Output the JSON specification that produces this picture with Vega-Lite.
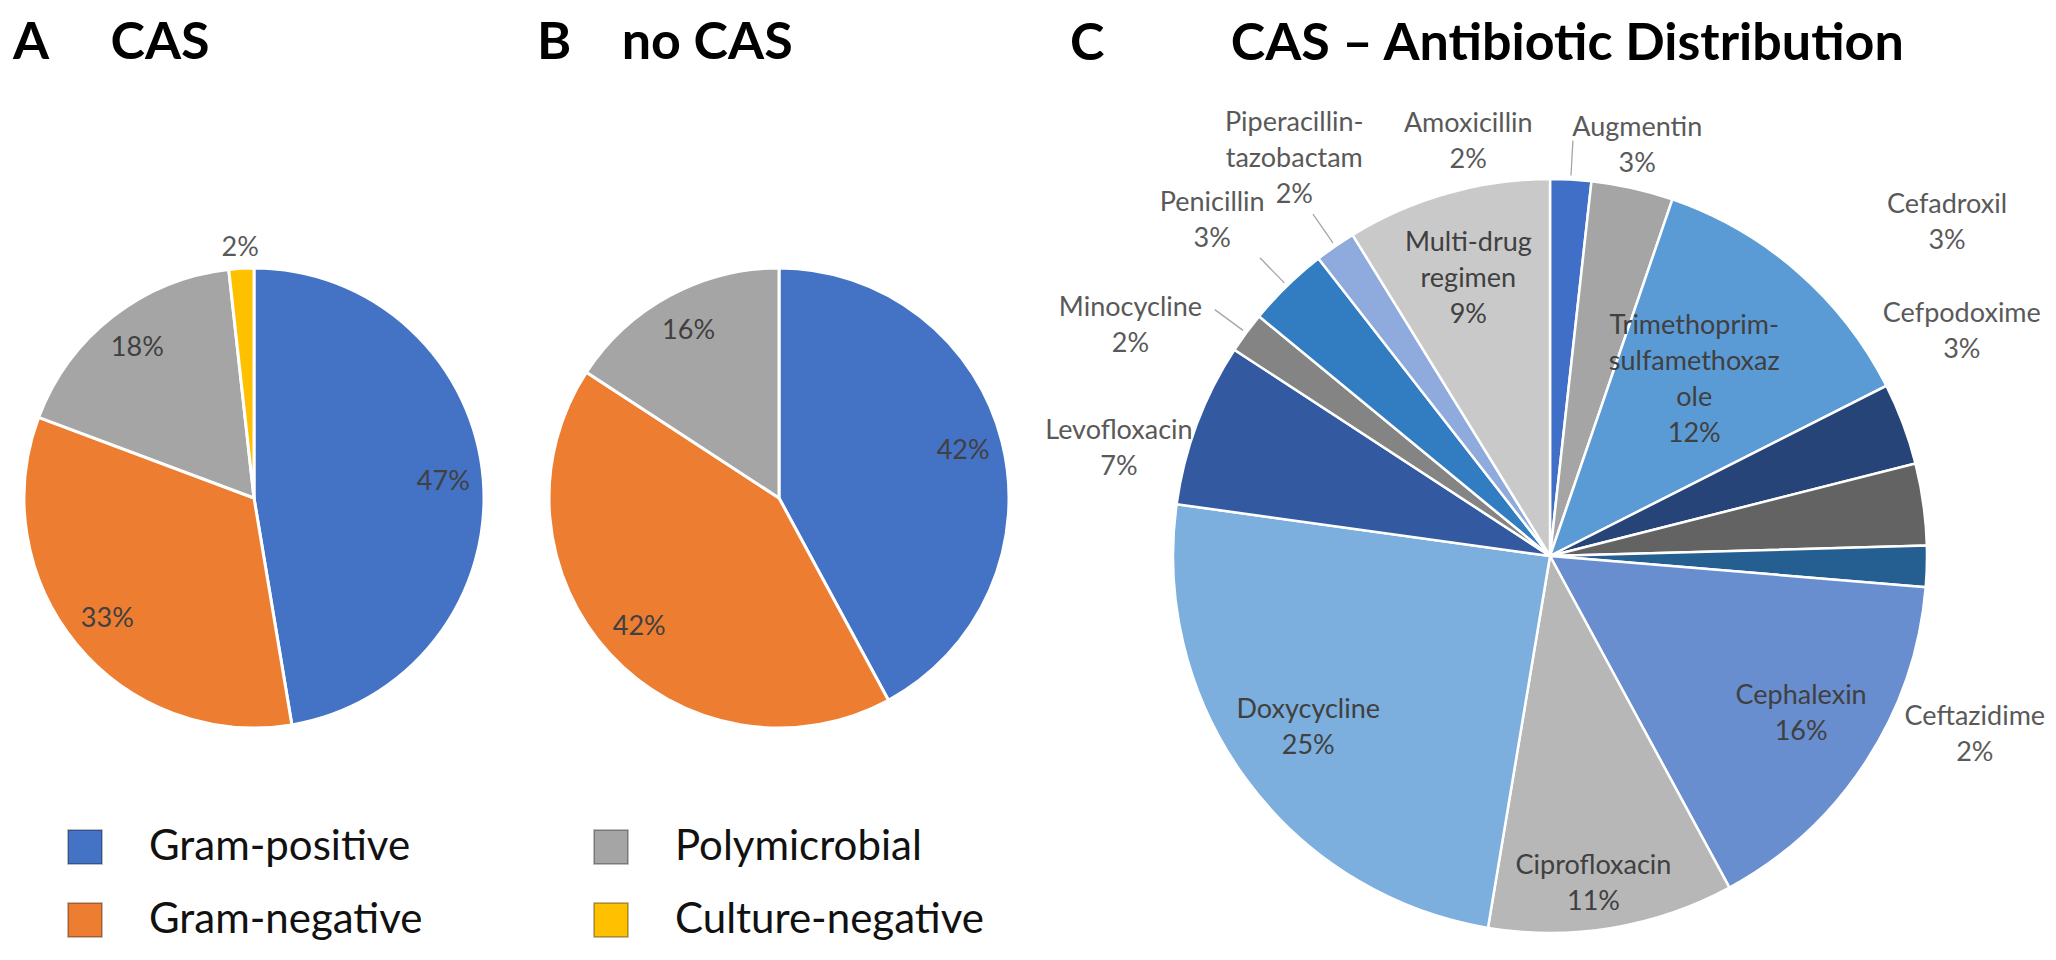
{
  "$schema": "https://vega.github.io/schema/vega-lite/v6.json",
  "padding": {"top": 17, "left": 0, "right": 0, "bottom": 0},
  "background": "white",
  "config": {
    "view": {"stroke": null},
    "title": {"font": "Lato", "fontSize": 52, "fontWeight": "bold", "color": "#000000", "anchor": "start", "frame": "group", "baseline": "alphabetic"}
  },
  "datasets": {
    "cas": [
      {"group": "Gram-positive", "n": 27, "pct": "47%", "seq": 1},
      {"group": "Gram-negative", "n": 19, "pct": "33%", "seq": 2},
      {"group": "Polymicrobial", "n": 10, "pct": "18%", "seq": 3},
      {"group": "Culture-negative", "n": 1, "pct": "2%", "seq": 4}
    ],
    "nocas": [
      {"group": "Gram-positive", "n": 8, "pct": "42%", "seq": 1},
      {"group": "Gram-negative", "n": 8, "pct": "42%", "seq": 2},
      {"group": "Polymicrobial", "n": 3, "pct": "16%", "seq": 3}
    ],
    "abx": [
      {"drug": "Amoxicillin", "n": 1, "seq": 1, "label": "Amoxicillin\n2%"},
      {"drug": "Augmentin", "n": 2, "seq": 2, "label": "Augmentin\n3%"},
      {"drug": "Trimethoprim-sulfamethoxazole", "n": 7, "seq": 3, "label": "Trimethoprim-\nsulfamethoxaz\nole\n12%"},
      {"drug": "Cefadroxil", "n": 2, "seq": 4, "label": "Cefadroxil\n3%"},
      {"drug": "Cefpodoxime", "n": 2, "seq": 5, "label": "Cefpodoxime\n3%"},
      {"drug": "Ceftazidime", "n": 1, "seq": 6, "label": "Ceftazidime\n2%"},
      {"drug": "Cephalexin", "n": 9, "seq": 7, "label": "Cephalexin\n16%"},
      {"drug": "Ciprofloxacin", "n": 6, "seq": 8, "label": "Ciprofloxacin\n11%"},
      {"drug": "Doxycycline", "n": 14, "seq": 9, "label": "Doxycycline\n25%"},
      {"drug": "Levofloxacin", "n": 4, "seq": 10, "label": "Levofloxacin\n7%"},
      {"drug": "Minocycline", "n": 1, "seq": 11, "label": "Minocycline\n2%"},
      {"drug": "Penicillin", "n": 2, "seq": 12, "label": "Penicillin\n3%"},
      {"drug": "Piperacillin-tazobactam", "n": 1, "seq": 13, "label": "Piperacillin-\ntazobactam\n2%"},
      {"drug": "Multi-drug regimen", "n": 5, "seq": 14, "label": "Multi-drug\nregimen\n9%"}
    ]
  },
  "bounds": "flush",
  "spacing": 0,
  "resolve": {"scale": {"color": "independent", "theta": "independent"}},
  "hconcat": [
    {
      "width": 508,
      "height": 692,
      "title": {"text": "A\u00a0\u00a0\u00a0\u00a0\u00a0CAS", "dx": 13, "offset": 82},
      "data": {"name": "cas"},
      "encoding": {
        "theta": {"field": "n", "type": "quantitative", "stack": true},
        "order": {"field": "seq", "type": "quantitative"}
      },
      "layer": [
        {
          "mark": {"type": "arc", "outerRadius": 230, "stroke": "white", "strokeWidth": 3},
          "encoding": {
            "color": {
              "field": "group", "type": "nominal",
              "scale": {"domain": ["Gram-positive", "Gram-negative", "Polymicrobial", "Culture-negative"], "range": ["#4472C4", "#ED7D31", "#A5A5A5", "#FFC000"]},
              "legend": {
                "title": null, "orient": "none", "legendX": 64, "legendY": 674, "columns": 2, "columnPadding": 167, "rowPadding": 31,
                "symbolType": "square", "symbolSize": 1156, "symbolStrokeColor": "rgba(0,0,0,0.35)", "symbolStrokeWidth": 1.5, "symbolOpacity": 1,
                "labelFont": "Lato", "labelFontSize": 42, "labelColor": "#111111", "labelOffset": 43, "labelLimit": 500, "padding": 0
              }
            }
          }
        },
        {
          "mark": {"type": "text", "radius": 190, "font": "Lato", "fontSize": 27, "align": "center", "baseline": "middle"},
          "encoding": {"text": {"condition": {"test": "datum.n > 1", "field": "pct"}, "value": ""}, "color": {"value": "#404040"}}
        },
        {
          "mark": {"type": "text", "radius": 250, "font": "Lato", "fontSize": 27, "align": "center", "baseline": "middle"},
          "encoding": {"text": {"condition": {"test": "datum.n <= 1", "field": "pct"}, "value": ""}, "color": {"value": "#595959"}}
        }
      ]
    },
    {
      "width": 542,
      "height": 692,
      "title": {"text": "B\u00a0\u00a0\u00a0\u00a0no CAS", "dx": 29, "offset": 82},
      "data": {"name": "nocas"},
      "encoding": {
        "theta": {"field": "n", "type": "quantitative", "stack": true},
        "order": {"field": "seq", "type": "quantitative"}
      },
      "layer": [
        {
          "mark": {"type": "arc", "outerRadius": 230, "stroke": "white", "strokeWidth": 3},
          "encoding": {
            "color": {
              "field": "group", "type": "nominal",
              "scale": {"domain": ["Gram-positive", "Gram-negative", "Polymicrobial", "Culture-negative"], "range": ["#4472C4", "#ED7D31", "#A5A5A5", "#FFC000"]},
              "legend": null
            }
          }
        },
        {
          "mark": {"type": "text", "radius": 190, "font": "Lato", "fontSize": 27, "align": "center", "baseline": "middle"},
          "encoding": {"text": {"field": "pct"}, "color": {"value": "#404040"}}
        }
      ]
    },
    {
      "width": 1000,
      "height": 808,
      "title": {"text": "C\u00a0\u00a0\u00a0\u00a0\u00a0\u00a0\u00a0\u00a0\u00a0\u00a0CAS \u2013 Antibiotic Distribution", "dx": 20, "offset": 38},
      "data": {"name": "abx"},
      "layer": [
        {
          "mark": {"type": "arc", "outerRadius": 377, "stroke": "white", "strokeWidth": 2.5},
          "encoding": {
            "theta": {"field": "n", "type": "quantitative", "stack": true},
            "order": {"field": "seq", "type": "quantitative"},
            "color": {
              "field": "drug", "type": "nominal",
              "scale": {
                "domain": ["Amoxicillin", "Augmentin", "Trimethoprim-sulfamethoxazole", "Cefadroxil", "Cefpodoxime", "Ceftazidime", "Cephalexin", "Ciprofloxacin", "Doxycycline", "Levofloxacin", "Minocycline", "Penicillin", "Piperacillin-tazobactam", "Multi-drug regimen"],
                "range": ["#3F6FC6", "#A5A5A5", "#5B9BD5", "#264478", "#636363", "#255E91", "#698ED0", "#B7B7B7", "#7CAFDD", "#335AA1", "#848484", "#327DC2", "#8FAADC", "#C9C9C9"]
              },
              "legend": null
            }
          }
        },
        {
          "transform": [
            {"stack": "n", "groupby": [], "sort": [{"field": "seq", "order": "ascending"}], "as": ["a0", "a1"]},
            {"fold": ["a0", "a1"], "as": ["edge", "ang"]},
            {"aggregate": [{"op": "mean", "field": "ang", "as": "mid"}], "groupby": ["drug", "label"]}
          ],
          "encoding": {
            "theta": {"field": "mid", "type": "quantitative"},
            "text": {"field": "label"}
          },
          "layer": [
            {
              "transform": [{"filter": {"field": "drug", "oneOf": ["Amoxicillin", "Piperacillin-tazobactam", "Penicillin", "Minocycline"]}}],
              "mark": {"type": "arc", "innerRadius": 381, "outerRadius": 416, "fill": null, "stroke": "#A6A6A6", "strokeWidth": 1.3},
              "encoding": {"theta2": {"field": "mid"}, "text": null}
            },
            {
              "transform": [{"filter": {"field": "drug", "oneOf": ["Multi-drug regimen", "Cephalexin", "Doxycycline"]}}],
              "mark": {"type": "text", "radius": 300, "dy": -24, "font": "Lato", "fontSize": 27, "align": "center", "baseline": "middle", "lineHeight": 36, "lineBreak": "\n", "color": "#404040"}
            },
            {
              "transform": [{"filter": "datum.drug === 'Trimethoprim-sulfamethoxazole'"}],
              "mark": {"type": "text", "radius": 241, "dx": -14, "dy": -48, "font": "Lato", "fontSize": 27, "align": "center", "baseline": "middle", "lineHeight": 36, "lineBreak": "\n", "color": "#404040"}
            },
            {
              "transform": [{"filter": "datum.drug === 'Ciprofloxacin'"}],
              "mark": {"type": "text", "radius": 331, "dx": -11, "dy": -16, "font": "Lato", "fontSize": 27, "align": "center", "baseline": "middle", "lineHeight": 36, "lineBreak": "\n", "color": "#404040"}
            },
            {
              "transform": [{"filter": "datum.drug === 'Amoxicillin'"}],
              "mark": {"type": "text", "radius": 440, "dx": -106, "dy": 7, "font": "Lato", "fontSize": 27, "align": "center", "baseline": "middle", "lineHeight": 36, "lineBreak": "\n", "color": "#595959"}
            },
            {
              "transform": [{"filter": "datum.drug === 'Augmentin'"}],
              "mark": {"type": "text", "radius": 440, "dx": -9, "dy": 1, "font": "Lato", "fontSize": 27, "align": "center", "baseline": "middle", "lineHeight": 36, "lineBreak": "\n", "color": "#595959"}
            },
            {
              "transform": [{"filter": "datum.drug === 'Piperacillin-tazobactam'"}],
              "mark": {"type": "text", "radius": 440, "dx": -5, "dy": -71, "font": "Lato", "fontSize": 27, "align": "center", "baseline": "middle", "lineHeight": 36, "lineBreak": "\n", "color": "#595959"}
            },
            {
              "transform": [{"filter": "datum.drug === 'Cefadroxil'"}],
              "mark": {"type": "text", "radius": 440, "dx": -15, "dy": -197, "font": "Lato", "fontSize": 27, "align": "center", "baseline": "middle", "lineHeight": 36, "lineBreak": "\n", "color": "#595959"}
            },
            {
              "transform": [{"filter": "datum.drug === 'Cefpodoxime'"}],
              "mark": {"type": "text", "radius": 440, "dx": -24, "dy": -182, "font": "Lato", "fontSize": 27, "align": "center", "baseline": "middle", "lineHeight": 36, "lineBreak": "\n", "color": "#595959"}
            },
            {
              "transform": [{"filter": "datum.drug === 'Ceftazidime'"}],
              "mark": {"type": "text", "radius": 440, "dx": -15, "dy": 149, "font": "Lato", "fontSize": 27, "align": "center", "baseline": "middle", "lineHeight": 36, "lineBreak": "\n", "color": "#595959"}
            },
            {
              "transform": [{"filter": "datum.drug === 'Penicillin'"}],
              "mark": {"type": "text", "radius": 440, "dx": -31, "dy": -38, "font": "Lato", "fontSize": 27, "align": "center", "baseline": "middle", "lineHeight": 36, "lineBreak": "\n", "color": "#595959"}
            },
            {
              "transform": [{"filter": "datum.drug === 'Minocycline'"}],
              "mark": {"type": "text", "radius": 440, "dx": -65, "dy": 13, "font": "Lato", "fontSize": 27, "align": "center", "baseline": "middle", "lineHeight": 36, "lineBreak": "\n", "color": "#595959"}
            },
            {
              "transform": [{"filter": "datum.drug === 'Levofloxacin'"}],
              "mark": {"type": "text", "radius": 440, "dx": -19, "dy": 29, "font": "Lato", "fontSize": 27, "align": "center", "baseline": "middle", "lineHeight": 36, "lineBreak": "\n", "color": "#595959"}
            }
          ]
        }
      ]
    }
  ]
}
